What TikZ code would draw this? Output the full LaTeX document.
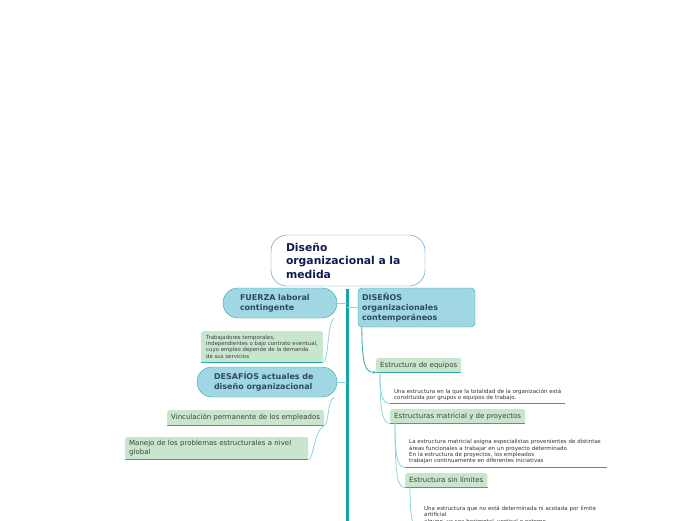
\documentclass[tikz,border=0pt]{standalone}
\usepackage{fontspec}
\setmainfont{DejaVu Sans}
\usetikzlibrary{arrows.meta}

\definecolor{tronco}{HTML}{14A6A8}
\definecolor{celeste}{HTML}{A0D7E3}
\definecolor{verde}{HTML}{C8E6CD}
\definecolor{borde}{HTML}{2AA8A8}
\definecolor{tinta}{HTML}{2E4A5C}
\definecolor{marino}{HTML}{0F1E4E}
\definecolor{azul}{HTML}{3A8FCF}
\definecolor{hilo}{HTML}{8ED6D8}

\tikzset{
  tema/.style={draw=borde, fill=celeste, text=tinta, font=\bfseries\fontsize{8}{10}\selectfont,
    align=left, inner ysep=0pt},
  hoja/.style={fill=verde, text=black!75, rounded corners=2pt, font=\fontsize{7}{9}\selectfont,
    align=left, inner xsep=4pt, inner ysep=0pt, anchor=north west},
  nota/.style={text=black!80, font=\fontsize{5.5}{6.4}\selectfont, align=left,
    inner xsep=4pt, inner ysep=0pt, anchor=north west},
  subrayado/.style={draw=borde, line width=1.4pt},
  curva/.style={draw=hilo, line width=0.8pt},
  rama/.style={draw=hilo, line width=0.8pt},
}

\begin{document}
\begin{tikzpicture}[x=1pt, y=-1pt]
    \useasboundingbox (0,0) rectangle (696,520);
    \clip (0,0) rectangle (696,520);

    % Idea central
    \node[draw=azul, fill=white, rounded corners=16pt, text=marino, align=left,
          font=\bfseries\fontsize{10.8}{13.5}\selectfont, minimum width=154pt, minimum height=51pt,
          text width=124pt, inner xsep=15pt, inner ysep=0pt]
        (centro) at (348,260.5) {Diseño\\organizacional a la\\medida};

    % Temas de la izquierda
    \node[tema, rounded corners=15pt, minimum height=30pt, text width=80pt, inner xsep=17pt]
        (fuerza) at (280,303) {FUERZA laboral\\contingente};
    \node[tema, rounded corners=15pt, minimum height=30pt, text width=106pt, inner xsep=17pt]
        (desafios) at (267,382) {DESAFÍOS actuales de\\diseño organizacional};

    % Tema de la derecha
    \node[tema, rounded corners=4pt, minimum height=39pt, text width=109pt, inner xsep=4pt]
        (disenos) at (416.5,307.5) {DISEÑOS\\organizacionales\\contemporáneos};

    % Hojas de la izquierda
    \node[hoja, font=\fontsize{5.4}{6.4}\selectfont, minimum height=31pt, inner xsep=5pt]
        (trab) at (201,331) {Trabajadores temporales,\\independientes o bajo contrato eventual,\\cuyo empleo depende de la demanda\\de sus servicios};
    \node[hoja, minimum height=15pt] (vinc) at (167,410) {Vinculación permanente de los empleados};
    \node[hoja, minimum height=22pt, text width=175pt] (manejo) at (125,437)
        {Manejo de los problemas estructurales a nivel\\global};

    % Hojas de la derecha
    \node[hoja, minimum height=14pt] (equipos) at (376,358) {Estructura de equipos};
    \node[nota, minimum height=17pt] (desc1) at (390,386)
        {Una estructura en la que la totalidad de la organización está\\constituida por grupos o equipos de trabajo.};
    \node[hoja, minimum height=14pt] (matricial) at (390,409) {Estructuras matricial y de proyectos};
    \node[nota, minimum height=31pt, text width=194pt] (desc2) at (405,436)
        {La estructura matricial asigna especialistas provenientes de distintas\\áreas funcionales a trabajar en un proyecto determinado\\En la estructura de proyectos, los empleados\\trabajan continuamente en diferentes iniciativas};
    \node[nota, minimum height=28pt, text width=192pt] (desc3) at (420,501)
        {Una estructura que no está determinada ni acotada por límite\\artificial\\ alguno, ya sea horizontal, vertical o externo};
    \node[hoja, minimum height=14pt] (sinlim) at (405,473) {Estructura sin límites};

    \foreach \n in {trab,vinc,manejo,equipos,desc1,matricial,desc2,sinlim,desc3}
        \draw[subrayado] (\n.south west) -- (\n.south east);

    % Tronco y ramas
    \coordinate (base) at (347,525);
    \draw[draw=tronco, line width=3pt] (centro.south -| base) ++(0,3) -- (base);
    \draw[rama] (fuerza.east) -- (fuerza.east -| base);
    \draw[rama] (desafios.east) -- (desafios.east -| base);
    \draw[rama] (disenos.west) -- (disenos.west -| base);

    % Curvas de la izquierda
    \draw[curva] ([xshift=-3pt]fuerza.south east) .. controls (327,322) and (329,362) .. (trab.south east);
    \draw[curva] ([xshift=-3pt]desafios.south east) .. controls (327,400) and (329,425) .. (vinc.south east);
    \draw[curva] (vinc.south east) .. controls (314,430) and (314,459) .. (manejo.south east);

    % Curvas de la derecha
    \draw[draw=borde, line width=0.8pt, -{Stealth[length=3pt,width=3pt]}]
        ([xshift=4pt]disenos.south west) .. controls (362,368) and (366,372) .. (equipos.south west);
    \draw[curva] ([xshift=4pt]equipos.south west) .. controls (380,398) and (383,403) .. (desc1.south west);
    \draw[curva] ([xshift=4pt]equipos.south west) .. controls (380,415) and (383,423) .. (matricial.south west);
    \draw[curva] ([xshift=5pt]matricial.south west) .. controls (395,460) and (398,467) .. (desc2.south west);
    \draw[curva] ([xshift=5pt]matricial.south west) .. controls (395,480) and (398,487) .. (sinlim.south west);
    \draw[curva] ([xshift=5pt]sinlim.south west) .. controls (410,520) and (413,530) .. (desc3.south west);
\end{tikzpicture}
\end{document}
